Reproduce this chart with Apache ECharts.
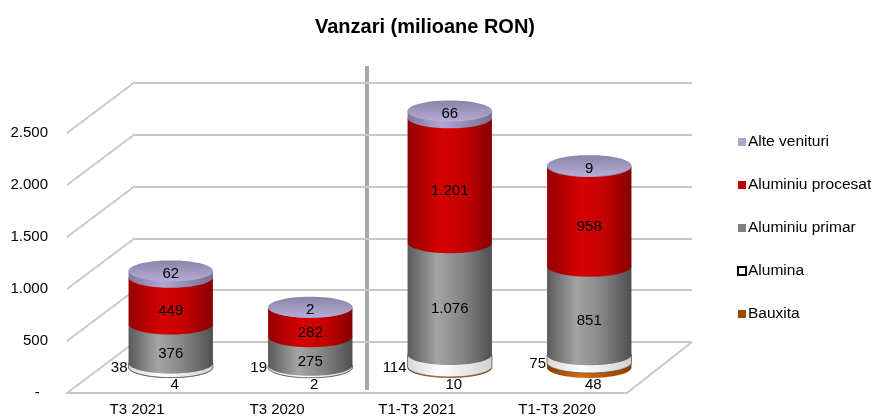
<!DOCTYPE html>
<html><head><meta charset="utf-8">
<script src="https://cdn.jsdelivr.net/npm/echarts@6/dist/echarts.min.js"></script>
<style>html,body{margin:0;padding:0;background:#fff}#c{width:871px;height:417px}</style>
</head><body><div id="c"></div>
<script>
var categories = ['T3 2021', 'T3 2020', 'T1-T3 2021', 'T1-T3 2020'];
var bauxita = [4, 2, 10, 48];
var alumina = [38, 19, 114, 75];
var aluminiuPrimar = [376, 275, 1076, 851];
var aluminiuProcesat = [449, 282, 1201, 958];
var alteVenituri = [62, 2, 66, 9];
var yTicks = [0, 500, 1000, 1500, 2000, 2500];
var yTickLabels = ['-  ', '500', '1.000', '1.500', '2.000', '2.500'];
var seriesNames = ['Bauxita', 'Alumina', 'Aluminiu primar', 'Aluminiu procesat', 'Alte venituri'];
var seriesValues = [bauxita, alumina, aluminiuPrimar, aluminiuProcesat, alteVenituri];

var FONT = '"Liberation Sans", Arial, sans-serif';
function fmt(v) { return String(v).replace(/\B(?=(\d{3})+(?!\d))/g, '.'); }

var fills = [
  {type:'linear',x:0,y:0,x2:1,y2:0,colorStops:[{offset:0,color:'#8a3c00'},{offset:0.4,color:'#d86a10'},{offset:1,color:'#8a3c00'}]},
  {type:'linear',x:0,y:0,x2:1,y2:0,colorStops:[{offset:0,color:'#d8d8d8'},{offset:0.4,color:'#ffffff'},{offset:1,color:'#d0d0d0'}]},
  {type:'linear',x:0,y:0,x2:1,y2:0,colorStops:[{offset:0,color:'#5a5a5a'},{offset:0.35,color:'#a4a4a4'},{offset:0.65,color:'#858585'},{offset:1,color:'#505050'}]},
  {type:'linear',x:0,y:0,x2:1,y2:0,colorStops:[{offset:0,color:'#960000'},{offset:0.4,color:'#d60000'},{offset:0.7,color:'#c00000'},{offset:1,color:'#880000'}]},
  {type:'linear',x:0,y:0,x2:1,y2:0,colorStops:[{offset:0,color:'#8078a0'},{offset:0.4,color:'#b0a6d2'},{offset:1,color:'#787090'}]}
];
var legendColors = ['#9c4a00', '#ffffff', '#808080', '#c00000', '#b3a2c7'];
var RY = 10.5;

function ellipsePts(cx, cy, rx, ry, t0, t1, n) {
  var pts = [];
  for (var i = 0; i <= n; i++) {
    var t = t0 + (t1 - t0) * i / n;
    pts.push([cx + rx * Math.cos(t), cy + ry * Math.sin(t)]);
  }
  return pts;
}

function makeRender(si) {
  return function (params, api) {
    var cat = api.value(0), base = api.value(1), val = api.value(2);
    var pb = api.coord([cat, base]);
    var pt = api.coord([cat, base + val]);
    var rx = api.size([1, 0])[0] * 0.605 / 2;
    var x = pb[0], yb = pb[1], yt = pt[1];
    var pts = [[x - rx, yt], [x - rx, yb]].concat(ellipsePts(x, yb, rx, RY, Math.PI, 0, 40)).concat([[x + rx, yt]]);
    var children = [{
      type: 'polygon', shape: { points: pts },
      style: { fill: fills[si], stroke: si === 1 ? '#555' : null, lineWidth: si === 1 ? 0.8 : 0 }
    }];
    if (si === seriesNames.length - 1) {
      children.push({
        type: 'polygon', shape: { points: ellipsePts(x, yt, rx, RY, 0, Math.PI * 2, 60) },
        style: { fill: {type:'linear',x:0,y:0,x2:0,y2:1,colorStops:[{offset:0,color:'#8a84a6'},{offset:1,color:'#b6acd8'}]} }
      });
    }
    var tx, ty, align = 'center';
    if (si === 0) { tx = x + 4; ty = yb + 17; }
    else if (si === 1) { tx = x - rx - 1; ty = yb + 1; align = 'right'; }
    else if (si === seriesNames.length - 1) { tx = x; ty = yt + 3; }
    else { tx = x; ty = (yb + yt) / 2 + RY; }
    children.push({
      type: 'text', z2: 10,
      style: { text: fmt(val), x: tx, y: ty, align: align, verticalAlign: 'middle',
        font: '15px ' + FONT, fill: '#000' }
    });
    return { type: 'group', children: children };
  };
}

var series = [];
var stackBase = categories.map(function () { return 0; });
seriesValues.forEach(function (arr, si) {
  var data = arr.map(function (v, ci) { var d = [ci, stackBase[ci], v]; stackBase[ci] += v; return d; });
  series.push({
    name: seriesNames[si], type: 'custom', xAxisIndex: 0, yAxisIndex: 0,
    renderItem: makeRender(si), data: data, z: 5,
    encode: { x: 0, y: [1, 2] },
    itemStyle: { color: legendColors[si], borderColor: si === 1 ? '#000' : legendColors[si], borderWidth: si === 1 ? 1 : 0 }
  });
});

// diagonals on side wall (front grid)
series.push({
  type: 'custom', xAxisIndex: 1, yAxisIndex: 1, silent: true, z: 1,
  data: yTicks.map(function (t) { return [0, t]; }),
  renderItem: function (params, api) {
    var p = api.coord([0, api.value(1)]);
    var x0 = params.coordSys.x;
    return { type: 'line', shape: { x1: x0, y1: p[1], x2: x0 + 68, y2: p[1] - 51 },
      style: { stroke: '#c8c8c8', lineWidth: 2 } };
  }
});
// right floor edge
series.push({
  type: 'custom', xAxisIndex: 1, yAxisIndex: 1, silent: true, z: 1,
  data: [[3, 0]],
  renderItem: function (params, api) {
    var p = api.coord([0, 0]);
    var x0 = params.coordSys.x + params.coordSys.width;
    return { type: 'line', shape: { x1: x0, y1: p[1], x2: x0 + 65, y2: p[1] - 51 },
      style: { stroke: '#c8c8c8', lineWidth: 2 } };
  }
});

var option = {
  animation: false,
  backgroundColor: '#fff',
  title: { text: 'Vanzari (milioane RON)', left: 420, textAlign: 'center', top: 12,
    textStyle: { fontSize: 20, fontWeight: 'bold', color: '#000', fontFamily: FONT } },
  legend: {
    orient: 'vertical', left: 732, top: 129, itemGap: 27, itemWidth: 8, itemHeight: 8, icon: 'rect',
    data: ['Alte venituri', 'Aluminiu procesat', 'Aluminiu primar', 'Alumina', 'Bauxita'],
    textStyle: { fontSize: 15.5, color: '#000', padding: [0, 0, 0, -3], fontFamily: FONT }
  },
  grid: [
    { left: 101, right: 212, top: 107.5, bottom: 49.5 },
    { left: 67, right: 244, top: 133, bottom: 24 },
    { left: 135, right: 179, top: 83, bottom: 75 }
  ],
  xAxis: [
    { gridIndex: 0, type: 'category', data: categories, show: false },
    { gridIndex: 1, type: 'category', data: categories,
      axisLine: { show: true, lineStyle: { color: '#c8c8c8', width: 2 } }, axisTick: { show: false },
      axisLabel: { margin: 9, fontSize: 15, color: '#000', fontFamily: FONT } },
    { gridIndex: 2, type: 'category', data: categories, show: false }
  ],
  yAxis: [
    { gridIndex: 0, type: 'value', min: 0, max: 2500, interval: 500, show: false },
    { gridIndex: 1, type: 'value', min: 0, max: 2500, interval: 500,
      axisLine: { show: false }, axisTick: { show: false }, splitLine: { show: false },
      axisLabel: { margin: 19, fontSize: 15, color: '#000', fontFamily: FONT,
        formatter: function (v) { return yTickLabels[yTicks.indexOf(v)]; } } },
    { gridIndex: 2, type: 'value', min: 0, max: 2500, interval: 500,
      axisLine: { show: false }, axisTick: { show: false }, axisLabel: { show: false },
      splitLine: { show: true, lineStyle: { color: '#c8c8c8', width: 2 } } }
  ],
  graphic: [
    { type: 'line', shape: { x1: 367, y1: 66, x2: 367, y2: 390 }, style: { stroke: '#a8a8a8', lineWidth: 4 }, z: 0 }
  ],
  series: series
};
var chart = echarts.init(document.getElementById('c'), null, { renderer: 'canvas' });
chart.setOption(option);
</script></body></html>
